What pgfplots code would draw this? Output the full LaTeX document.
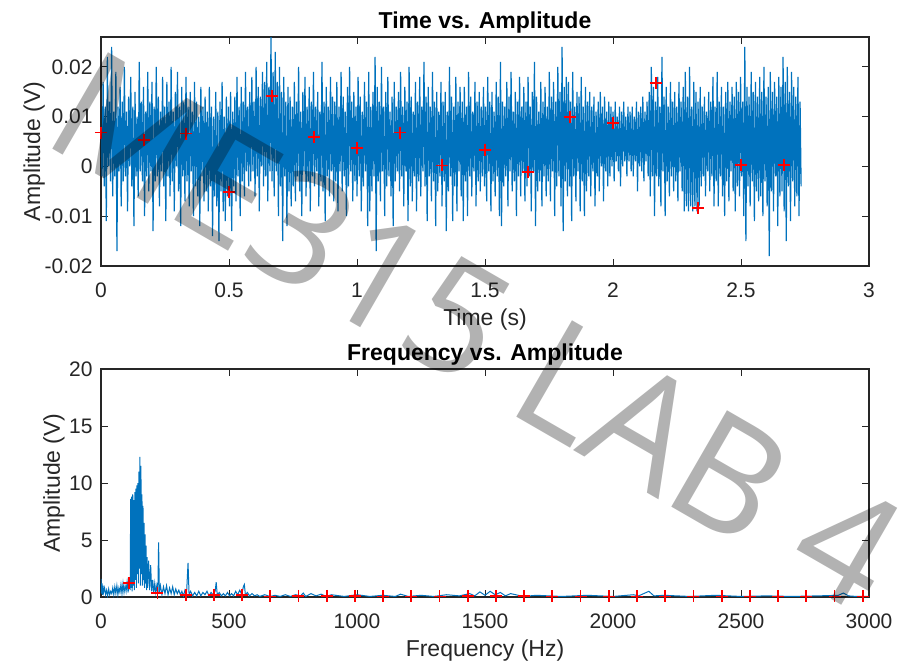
\documentclass[border=0pt]{standalone}
\usepackage{fontspec}
\setmainfont{Liberation Sans}
\newfontfamily\markfont{Open Sans}
\usepackage{pgfplots}
\pgfplotsset{compat=1.18}
\definecolor{MatBlue}{HTML}{0072BD}
\definecolor{AxisInk}{HTML}{262626}
\pgfplotsset{
  labplot/.style={
    scale only axis,width=384pt,
    axis line style={draw=AxisInk,line width=0.6pt},
    tick style={draw=AxisInk,line width=0.5pt},
    tick align=inside,major tick length=3.5pt,
    /pgf/number format/assume math mode=true,
    tick label style={font=\fontsize{10.5}{12}\selectfont,text=AxisInk},
    xticklabel style={anchor=base,yshift=-15.5pt},
    yticklabel style={anchor=east,inner sep=0pt,xshift=-4pt},
    scaled x ticks=false,scaled y ticks=false,
    label style={font=\fontsize{11.5}{13}\selectfont,text=AxisInk},
    xlabel style={at={(0.5,0)},anchor=base,yshift=-29.5pt},
    title style={font=\bfseries\fontsize{11.5}{13}\selectfont,at={(0.5,1)},anchor=base,yshift=-1.5pt},
  }
}
\begin{document}
\begin{tikzpicture}
\useasboundingbox (-50.5pt,-200pt) rectangle (404pt,133pt);
% top: time signal, one sample every 0.00415 s
\begin{axis}[labplot,height=114.5pt,at={(0,0)},anchor=south west,
  xmin=0,xmax=3,ymin=-0.02,ymax=0.026,
  xtick={0,0.5,1,1.5,2,2.5,3},xticklabels={0,0.5,1,1.5,2,2.5,3},
  ytick={-0.02,-0.01,0,0.01,0.02},yticklabels={-0.02,-0.01,0,0.01,0.02},
  title={Time vs. Amplitude},xlabel={Time (s)},ylabel={Amplitude (V)},
  ylabel style={at={(axis description cs:-0.0794,0.5)},anchor=base}]
\addplot[MatBlue,line width=0.6pt] table[header=false,row sep=\\,x expr=\coordindex*0.00415,y index=0] {
0.007\\ -0.002\\ 0.017\\ -0.004\\ 0.012\\ -0.011\\ 0.022\\ 0.000\\ 0.013\\ -0.003\\ 0.024\\ -0.006\\ 0.011\\ -0.002\\ 0.019\\ -0.017\\ 0.012\\ -0.001\\ 0.016\\ -0.008\\
0.013\\ -0.003\\ 0.020\\ -0.002\\ 0.011\\ -0.009\\ 0.014\\ 0.000\\ 0.018\\ -0.004\\ 0.012\\ -0.012\\ 0.015\\ -0.002\\ 0.010\\ -0.006\\ 0.021\\ -0.001\\ 0.013\\ -0.003\\
0.016\\ -0.010\\ 0.011\\ -0.002\\ 0.019\\ -0.005\\ 0.013\\ -0.001\\ 0.017\\ -0.013\\ 0.012\\ -0.003\\ 0.020\\ -0.002\\ 0.014\\ -0.008\\ 0.011\\ -0.001\\ 0.018\\ -0.004\\
0.012\\ -0.011\\ 0.017\\ -0.002\\ 0.013\\ -0.006\\ 0.020\\ -0.003\\ 0.011\\ -0.009\\ 0.015\\ 0.000\\ 0.019\\ -0.005\\ 0.012\\ -0.012\\ 0.016\\ -0.002\\ 0.013\\ -0.007\\
0.018\\ -0.003\\ 0.012\\ -0.008\\ 0.015\\ -0.001\\ 0.011\\ -0.010\\ 0.017\\ -0.004\\ 0.013\\ -0.006\\ 0.010\\ -0.012\\ 0.016\\ -0.002\\ 0.012\\ -0.007\\ 0.014\\ -0.005\\
0.011\\ -0.009\\ 0.016\\ -0.004\\ 0.012\\ -0.014\\ 0.010\\ -0.006\\ 0.015\\ -0.008\\ 0.011\\ -0.015\\ 0.013\\ -0.005\\ 0.017\\ -0.009\\ 0.010\\ -0.011\\ 0.014\\ -0.006\\
0.012\\ -0.008\\ 0.015\\ -0.013\\ 0.011\\ -0.004\\ 0.014\\ -0.007\\ 0.018\\ -0.002\\ 0.012\\ -0.010\\ 0.016\\ -0.003\\ 0.013\\ -0.006\\ 0.019\\ -0.001\\ 0.012\\ -0.004\\
0.015\\ -0.003\\ 0.018\\ -0.001\\ 0.013\\ -0.006\\ 0.020\\ -0.002\\ 0.016\\ -0.009\\ 0.014\\ 0.000\\ 0.019\\ -0.004\\ 0.017\\ -0.002\\ 0.021\\ -0.007\\ 0.016\\ -0.001\\
0.026\\ -0.003\\ 0.019\\ -0.006\\ 0.023\\ -0.001\\ 0.017\\ -0.010\\ 0.020\\ -0.004\\ 0.015\\ -0.015\\ 0.018\\ -0.002\\ 0.013\\ -0.012\\ 0.016\\ -0.005\\ 0.014\\ -0.008\\
0.012\\ -0.004\\ 0.017\\ -0.007\\ 0.013\\ -0.002\\ 0.020\\ -0.005\\ 0.011\\ -0.010\\ 0.015\\ -0.001\\ 0.018\\ -0.006\\ 0.012\\ -0.003\\ 0.016\\ -0.009\\ 0.013\\ -0.002\\
0.019\\ -0.004\\ 0.012\\ -0.001\\ 0.015\\ -0.008\\ 0.011\\ -0.003\\ 0.021\\ -0.005\\ 0.013\\ -0.011\\ 0.016\\ -0.002\\ 0.012\\ -0.006\\ 0.018\\ -0.001\\ 0.014\\ -0.007\\
0.013\\ -0.003\\ 0.017\\ -0.009\\ 0.012\\ -0.001\\ 0.019\\ -0.005\\ 0.014\\ -0.002\\ 0.011\\ -0.010\\ 0.016\\ -0.004\\ 0.020\\ -0.001\\ 0.013\\ -0.007\\ 0.015\\ -0.003\\
0.012\\ -0.006\\ 0.018\\ -0.002\\ 0.014\\ -0.009\\ 0.011\\ -0.004\\ 0.017\\ -0.001\\ 0.013\\ -0.012\\ 0.019\\ -0.009\\ 0.012\\ -0.005\\ 0.015\\ -0.002\\ 0.022\\ -0.017\\
0.016\\ -0.003\\ 0.013\\ -0.007\\ 0.020\\ -0.001\\ 0.012\\ -0.010\\ 0.015\\ -0.004\\ 0.018\\ -0.002\\ 0.011\\ -0.006\\ 0.014\\ -0.012\\ 0.017\\ -0.003\\ 0.012\\ -0.001\\
0.015\\ -0.005\\ 0.019\\ -0.002\\ 0.012\\ -0.008\\ 0.016\\ -0.001\\ 0.013\\ -0.011\\ 0.020\\ -0.004\\ 0.014\\ -0.007\\ 0.011\\ -0.002\\ 0.017\\ -0.009\\ 0.013\\ -0.003\\
0.018\\ -0.006\\ 0.012\\ -0.001\\ 0.021\\ -0.004\\ 0.014\\ -0.011\\ 0.016\\ -0.002\\ 0.012\\ -0.007\\ 0.019\\ -0.003\\ 0.013\\ -0.012\\ 0.015\\ -0.005\\ 0.011\\ -0.002\\
0.017\\ -0.008\\ 0.013\\ -0.003\\ 0.015\\ -0.013\\ 0.011\\ -0.005\\ 0.020\\ -0.002\\ 0.014\\ -0.011\\ 0.012\\ -0.004\\ 0.018\\ -0.009\\ 0.013\\ -0.001\\ 0.016\\ -0.006\\
0.013\\ -0.011\\ 0.016\\ -0.003\\ 0.012\\ -0.010\\ 0.019\\ -0.002\\ 0.014\\ -0.006\\ 0.011\\ -0.001\\ 0.017\\ -0.008\\ 0.013\\ -0.003\\ 0.015\\ -0.005\\ 0.012\\ -0.002\\
0.016\\ -0.004\\ 0.012\\ -0.007\\ 0.018\\ -0.001\\ 0.013\\ -0.009\\ 0.015\\ -0.003\\ 0.011\\ -0.006\\ 0.017\\ -0.002\\ 0.014\\ -0.010\\ 0.021\\ -0.012\\ 0.013\\ -0.004\\
0.012\\ -0.002\\ 0.017\\ -0.008\\ 0.014\\ -0.001\\ 0.019\\ -0.005\\ 0.011\\ -0.003\\ 0.015\\ -0.010\\ 0.013\\ -0.002\\ 0.018\\ -0.006\\ 0.012\\ -0.001\\ 0.016\\ -0.007\\
0.013\\ -0.004\\ 0.018\\ -0.002\\ 0.012\\ -0.009\\ 0.015\\ -0.001\\ 0.021\\ -0.012\\ 0.014\\ -0.005\\ 0.011\\ -0.003\\ 0.017\\ -0.008\\ 0.013\\ -0.002\\ 0.016\\ -0.006\\
0.012\\ -0.003\\ 0.019\\ -0.007\\ 0.014\\ -0.001\\ 0.017\\ -0.010\\ 0.013\\ -0.004\\ 0.020\\ -0.002\\ 0.015\\ -0.008\\ 0.024\\ -0.013\\ 0.016\\ -0.003\\ 0.018\\ -0.006\\
0.017\\ -0.004\\ 0.013\\ -0.011\\ 0.019\\ -0.002\\ 0.012\\ -0.007\\ 0.015\\ -0.001\\ 0.014\\ -0.009\\ 0.018\\ -0.003\\ 0.012\\ -0.010\\ 0.016\\ -0.005\\ 0.013\\ -0.002\\
0.015\\ -0.006\\ 0.012\\ -0.001\\ 0.014\\ -0.008\\ 0.011\\ -0.002\\ 0.013\\ -0.005\\ 0.015\\ 0.000\\ 0.012\\ -0.007\\ 0.014\\ -0.001\\ 0.011\\ -0.004\\ 0.013\\ -0.002\\
0.012\\ 0.000\\ 0.011\\ -0.003\\ 0.013\\ 0.001\\ 0.010\\ -0.001\\ 0.012\\ -0.004\\ 0.011\\ 0.000\\ 0.013\\ 0.001\\ 0.010\\ -0.002\\ 0.012\\ 0.001\\ 0.011\\ -0.001\\
0.012\\ -0.002\\ 0.010\\ 0.001\\ 0.013\\ -0.005\\ 0.011\\ 0.000\\ 0.012\\ -0.001\\ 0.014\\ -0.003\\ 0.011\\ 0.001\\ 0.013\\ -0.002\\ 0.015\\ -0.006\\ 0.020\\ -0.002\\
0.016\\ -0.010\\ 0.013\\ -0.002\\ 0.018\\ -0.004\\ 0.012\\ -0.008\\ 0.022\\ -0.001\\ 0.014\\ -0.010\\ 0.016\\ -0.003\\ 0.012\\ -0.006\\ 0.017\\ -0.002\\ 0.013\\ -0.005\\
0.015\\ -0.003\\ 0.012\\ -0.007\\ 0.017\\ -0.001\\ 0.013\\ -0.005\\ 0.016\\ -0.009\\ 0.019\\ -0.008\\ 0.014\\ -0.009\\ 0.020\\ -0.008\\ 0.012\\ -0.009\\ 0.017\\ -0.008\\
0.015\\ -0.009\\ 0.013\\ -0.008\\ 0.016\\ -0.004\\ 0.012\\ -0.002\\ 0.014\\ -0.006\\ 0.011\\ -0.001\\ 0.015\\ -0.005\\ 0.013\\ -0.002\\ 0.018\\ -0.008\\ 0.012\\ -0.003\\
0.019\\ -0.008\\ 0.013\\ -0.002\\ 0.016\\ -0.006\\ 0.012\\ -0.010\\ 0.015\\ -0.003\\ 0.017\\ -0.007\\ 0.013\\ -0.001\\ 0.016\\ -0.005\\ 0.014\\ -0.009\\ 0.017\\ -0.004\\
0.015\\ -0.006\\ 0.018\\ -0.002\\ 0.013\\ -0.010\\ 0.024\\ -0.015\\ 0.016\\ -0.004\\ 0.014\\ -0.008\\ 0.019\\ -0.003\\ 0.015\\ -0.011\\ 0.017\\ -0.005\\ 0.014\\ -0.007\\
0.018\\ -0.006\\ 0.015\\ -0.010\\ 0.020\\ -0.003\\ 0.014\\ -0.008\\ 0.016\\ -0.018\\ 0.019\\ -0.005\\ 0.015\\ -0.009\\ 0.017\\ -0.002\\ 0.014\\ -0.012\\ 0.018\\ -0.006\\
0.016\\ -0.005\\ 0.022\\ -0.009\\ 0.017\\ -0.015\\ 0.020\\ -0.004\\ 0.015\\ -0.011\\ 0.019\\ -0.003\\ 0.016\\ -0.008\\ 0.014\\ -0.006\\ 0.018\\ -0.010\\ 0.013\\ -0.004\\
};
\addplot[only marks,mark=+,mark size=3pt,red,line width=0.9pt] coordinates {
(0,0.0068)(0.1667,0.0053)(0.3333,0.0066)(0.5,-0.0051)(0.6667,0.0142)(0.8333,0.0059)
(1,0.0037)(1.1667,0.0068)(1.3333,0.0002)(1.5,0.0033)(1.6667,-0.0011)(1.8333,0.0099)
(2,0.0088)(2.1667,0.0167)(2.3333,-0.0083)(2.5,0.0003)(2.6667,0.0003)};
\end{axis}
% bottom: spectrum
\begin{axis}[labplot,height=114pt,at={(0,-165.5pt)},anchor=south west,
  xmin=0,xmax=3000,ymin=0,ymax=20,
  xtick={0,500,1000,1500,2000,2500,3000},xticklabels={0,500,1000,1500,2000,2500,3000},
  ytick={0,5,10,15,20},yticklabels={0,5,10,15,20},
  title={Frequency vs. Amplitude},xlabel={Frequency (Hz)},ylabel={Amplitude (V)},
  ylabel style={at={(axis description cs:-0.0534,0.5)},anchor=base}]
\addplot[MatBlue,line width=0.5pt] coordinates {
(0,1.6)(2,0.3)(4,1.2)(6,0.2)(8,1.0)(10,0.4)(14,0.8)(18,0.2)(22,0.6)(26,0.1)(30,0.7)(34,0.2)
(38,0.5)(42,0.3)(46,0.8)(50,0.2)(54,0.9)(58,0.3)(62,1.0)(66,0.2)(70,0.8)(74,0.4)(78,1.1)(82,0.3)
(86,1.2)(90,0.4)(94,1.0)(98,0.5)(102,1.3)(106,0.4)(110,1.6)(114,0.6)(116,8.6)(118,0.8)
(120,8.8)(122,0.5)(124,9.0)(126,1.0)(128,8.5)(130,0.6)(132,9.2)(134,1.5)(136,9.5)(138,0.8)
(140,9.8)(142,2.0)(144,10.0)(146,1.2)(148,11.0)(150,2.5)(152,12.3)(154,1.0)(156,11.5)(158,2.0)
(160,9.0)(162,1.0)(164,8.0)(166,1.5)(168,6.5)(170,0.8)(172,5.5)(174,1.2)(176,4.5)(178,0.6)
(180,3.5)(182,0.8)(186,3.2)(190,0.6)(194,2.8)(198,0.5)(202,1.5)(206,0.3)(210,1.2)(214,0.4)
(218,1.0)(222,0.3)(225,4.8)(228,0.4)(232,1.0)(238,0.2)(244,0.9)(250,0.3)(256,1.0)(262,0.2)
(268,0.8)(274,0.3)(280,0.9)(286,0.2)(292,0.7)(298,0.3)(304,0.6)(310,0.2)(316,0.5)(322,0.1)
(328,0.6)(334,0.2)(340,3.0)(344,0.2)(350,0.5)(358,0.1)(366,0.4)(374,0.1)(382,0.5)(390,0.1)
(398,0.4)(406,0.2)(414,0.5)(422,0.1)(430,0.4)(438,0.2)(446,0.5)(450,1.3)(454,0.2)(462,0.4)
(470,0.1)(478,0.3)(486,0.1)(494,0.4)(502,0.1)(510,0.3)(518,0.1)(526,0.5)(534,0.2)(542,0.6)
(550,0.2)(556,0.9)(560,1.1)(564,0.2)(572,0.4)(580,0.1)(590,0.3)(600,0.1)(610,0.2)(620,0.05)
(640,0.2)(660,0.05)(680,0.15)(700,0.05)(720,0.2)(740,0.05)(760,0.2)(780,0.1)(790,0.35)(800,0.05)
(820,0.3)(840,0.1)(860,0.25)(880,0.05)(900,0.2)(950,0.05)(1000,0.2)(1050,0.05)(1100,0.15)(1150,0.05)
(1170,0.25)(1200,0.05)(1250,0.15)(1300,0.05)(1350,0.2)(1400,0.1)(1440,0.3)(1460,0.1)(1480,0.45)(1500,0.15)
(1520,0.5)(1540,0.2)(1560,0.4)(1580,0.1)(1600,0.3)(1650,0.05)(1700,0.15)(1800,0.05)(1900,0.15)(2000,0.05)
(2080,0.2)(2100,0.1)(2140,0.5)(2160,0.1)(2200,0.15)(2300,0.05)(2400,0.15)(2500,0.05)(2600,0.1)(2700,0.05)
(2800,0.1)(2880,0.15)(2900,0.35)(2920,0.1)(2950,0.05)(3000,0.05)};
\addplot[only marks,mark=+,mark size=3pt,red,line width=0.9pt] coordinates {
(110.2,1.25)(220.4,0.35)(330.6,0.15)(440.8,0.15)(551,0.15)(661.2,0.05)(771.4,0.1)(881.6,0.1)
(991.8,0.1)(1102,0.05)(1212.2,0.05)(1322.4,0.05)(1432.6,0.1)(1542.8,0.1)(1653,0.1)(1763.2,0.05)
(1873.4,0.05)(1983.6,0.05)(2093.8,0.05)(2204,0.05)(2314.2,0.05)(2424.4,0.05)(2534.6,0.05)
(2644.8,0.05)(2755,0.05)(2865.2,0.05)(2975.4,0.05)};
\end{axis}
% watermark
\node[rotate=-30,text=black,text opacity=0.3,font=\markfont\fontsize{78}{78}\selectfont] at (188pt,-32pt) {ME315 LAB 4};
\end{tikzpicture}
\end{document}
